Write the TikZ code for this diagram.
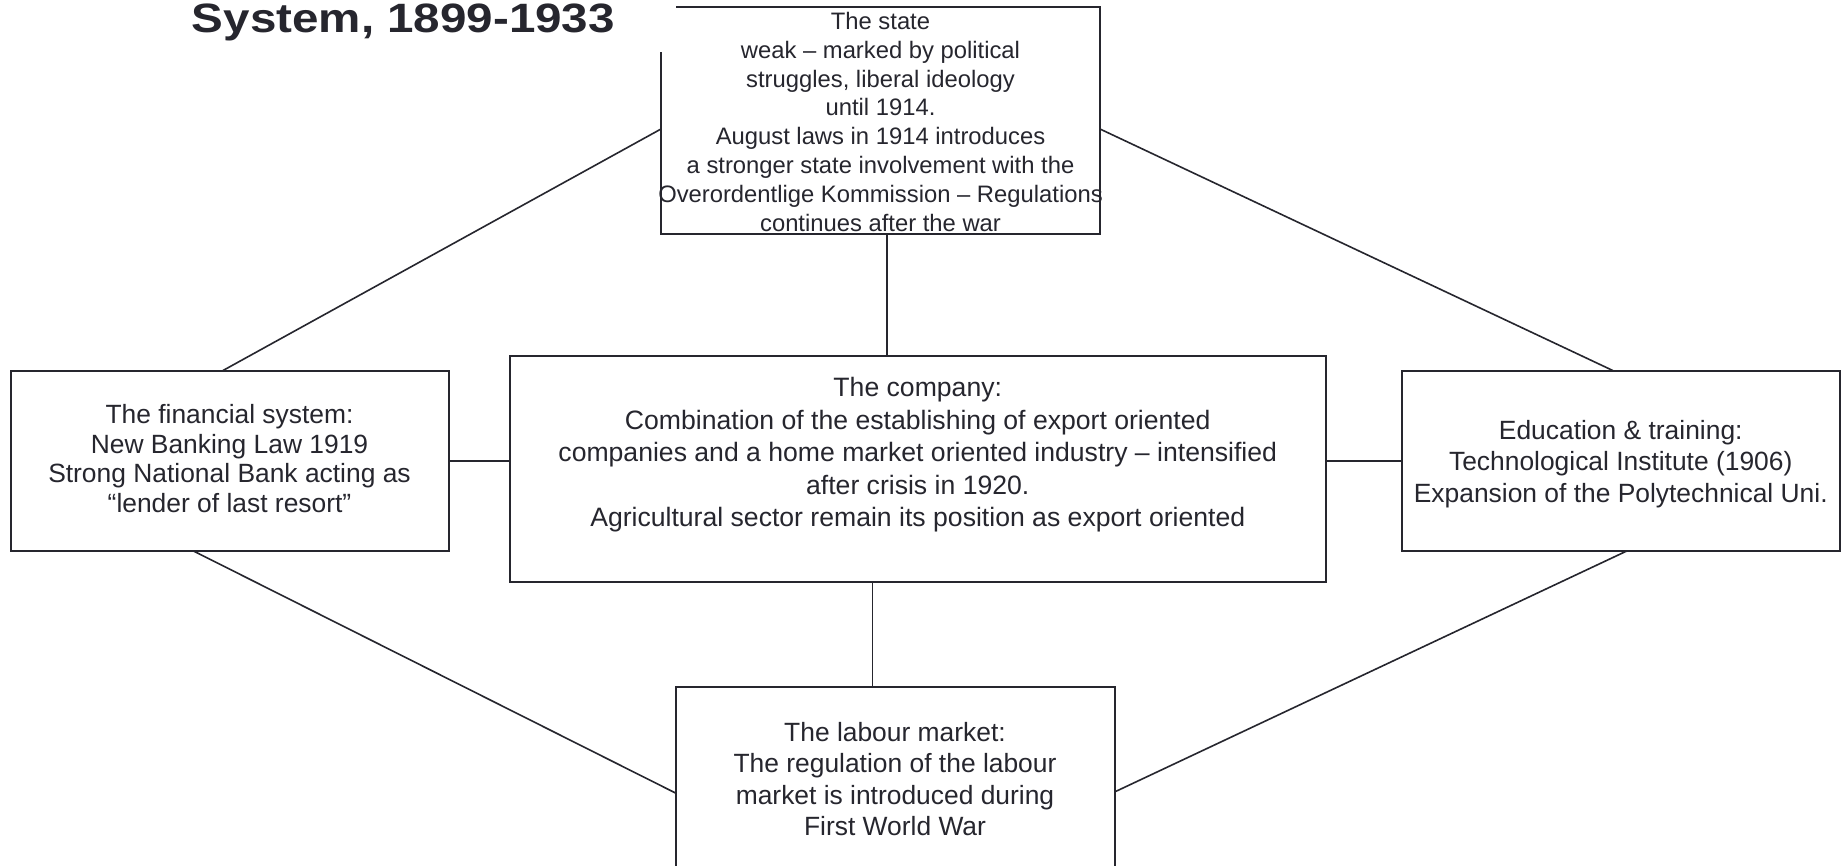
\documentclass[tikz,border=0pt]{standalone}
\usepackage{fontspec}
\setmainfont{Liberation Sans}
\usetikzlibrary{calc}
\definecolor{ink}{RGB}{38,38,46}
% centred block of lines whose reference point is the first baseline
\newcommand{\boxlines}[3]{\fontsize{#1}{#2}\selectfont\begin{tabular}[t]{@{}c@{}}#3\end{tabular}}

\begin{document}
\begin{tikzpicture}[x=1pt,y=-1pt,
  panel/.style={draw=ink, line width=2pt, rectangle, inner sep=0pt, outer sep=0pt, anchor=north west},
  link/.style={draw=ink, line width=1.6pt},
  label/.style={anchor=base, inner sep=0pt, outer sep=0pt, text=ink}]
\useasboundingbox (0,0) rectangle (1845,865);
\fill[white] (0,0) rectangle (1845,865);
\clip (0,0) rectangle (1845,865);

% boxes
\node[panel, minimum width=439pt, minimum height=227pt] (state) at (661,7) {};
\node[panel, minimum width=438pt, minimum height=180.5pt] (fin) at (10.5,370.5) {};
\node[panel, minimum width=816.5pt, minimum height=226pt] (comp) at (509.5,355.5) {};
\node[panel, minimum width=438.5pt, minimum height=180.5pt] (edu) at (1401.5,370.5) {};
\node[panel, minimum width=439pt, minimum height=260pt] (lab) at (675.5,687) {};

% connectors
\coordinate (sl) at ($(state.north west)+(0,122)$);
\coordinate (sr) at ($(state.north east)+(0,122)$);
\coordinate (sb) at ($(state.south)+(6.5,0)$);
\coordinate (lt) at ($(lab.north)+(-22.7,0)$);
\coordinate (ll) at ($(lab.north west)+(0,106)$);
\coordinate (lr) at ($(lab.north east)+(0,105)$);
\draw[link] (sl) -- ($(fin.north)+(-6.5,0)$);
\draw[link] (sr) -- ($(edu.north)+(-8,0)$);
\draw[link] (sb) -- (sb |- comp.north);
\draw[link] (lt |- comp.south) -- (lt);
\draw[link] (fin.east) -- (fin.east -| comp.west);
\draw[link] (comp.east |- edu.west) -- (edu.west);
\draw[link] ($(fin.south)+(-36,0)$) -- (ll);
\draw[link] ($(edu.south)+(6,0)$) -- (lr);

% heading
\node[fill=white, inner sep=0pt, outer sep=0pt, minimum width=560pt, minimum height=90pt, anchor=south east] (titlebg) at (676,52) {};
\node[anchor=base west, inner sep=0pt, text=ink, font=\fontsize{41}{44}\selectfont\bfseries] (title) at (191.7,32.5) {\scalebox{1.16}[1]{System, 1899-1933}};

% box texts
\node[label] (statetext) at (880.5,29.5) {\boxlines{23.8}{28.8}{The state\\
weak – marked by political\\
struggles, liberal ideology\\
until 1914.\\
August laws in 1914 introduces\\
a stronger state involvement with the\\
Overordentlige Kommission – Regulations\\
continues after the war}};

\node[label] (fintext) at (229.5,423.5) {\boxlines{26.4}{29.5}{The financial system:\\
New Banking Law 1919\\
Strong National Bank acting as\\
“lender of last resort”}};

\node[label] (comptext) at (917.75,396.5) {\boxlines{26.6}{32.6}{The company:\\
Combination of the establishing of export oriented\\
companies and a home market oriented industry – intensified\\
after crisis in 1920.\\
Agricultural sector remain its position as export oriented}};

\node[label] (edutext) at (1620.75,439) {\boxlines{26.4}{31.8}{Education \& training:\\
Technological Institute (1906)\\
Expansion of the Polytechnical Uni.}};

\node[label] (labtext) at (895,741) {\boxlines{26.4}{31.5}{The labour market:\\
The regulation of the labour\\
market is introduced during\\
First World War}};
\end{tikzpicture}
\end{document}
